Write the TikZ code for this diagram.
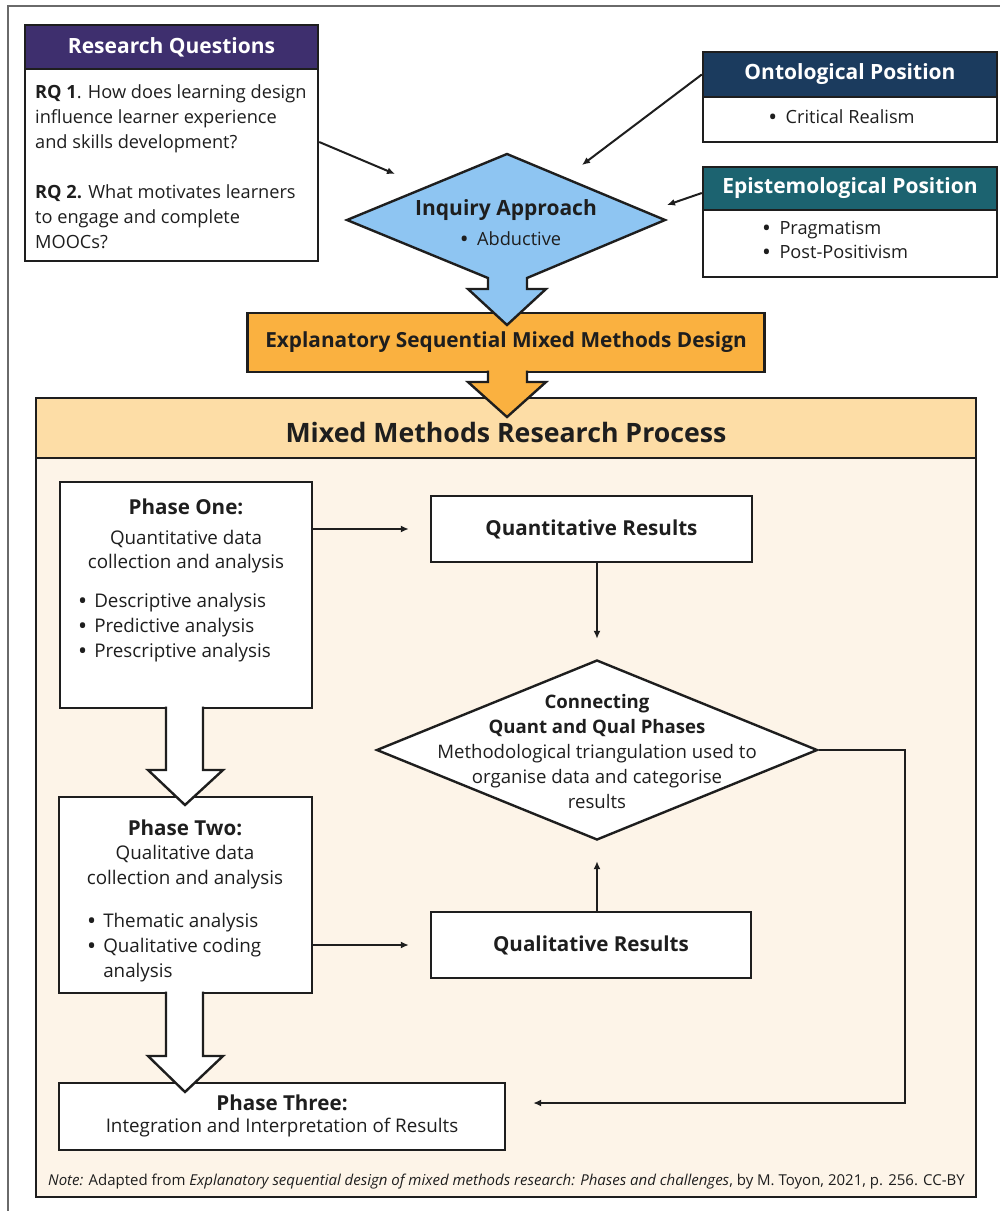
\documentclass[tikz,border=0pt]{standalone}
\usepackage{fontspec}
\setmainfont{Open Sans}
\usetikzlibrary{shapes.geometric,arrows.meta,calc}
\definecolor{lc}{HTML}{1E1E1E}
\definecolor{rqpurple}{HTML}{3E2F6E}
\definecolor{navy}{HTML}{1B3B5E}
\definecolor{teal2}{HTML}{1C6370}
\definecolor{skyblue}{HTML}{8EC5F2}
\definecolor{orng}{HTML}{FAB140}
\definecolor{hdrorng}{HTML}{FDDDA6}
\definecolor{cream}{HTML}{FDF4E8}
\definecolor{framegray}{HTML}{6A6A6A}
\newcommand{\mybul}{{\bfseries\textbullet}}
\begin{document}
\begin{tikzpicture}[x=1pt,y=-1pt,
  box/.style={draw=lc, line width=2.4pt, fill=white, inner sep=0pt},
  hdr/.style={box, text=white, font=\fontsize{21}{24}\selectfont\bfseries},
  arr/.style={draw=lc, line width=2pt, -{Latex[length=8pt,width=7pt]}},
  bigarrow/.style={draw=lc, line width=2.4pt, line join=miter},
  txt/.style={inner sep=0pt, text=lc, font=\fontsize{18.2}{25}\selectfont},
  ptitle/.style={inner sep=0pt, text=lc, font=\fontsize{20.6}{24}\selectfont\bfseries},
  pbody/.style={inner sep=0pt, text=lc, font=\fontsize{18.8}{25}\selectfont},
  res/.style={box, text=lc, font=\fontsize{20.6}{24}\selectfont\bfseries}
]
\useasboundingbox (0,0) rectangle (1000,1211);
\fill[white] (0,0) rectangle (1000,1211);
\draw[framegray, line width=1.3pt] (8,6) rectangle (1010,1220);

% Research questions
\node[box, minimum width=293pt, minimum height=192pt] (rqb) at (171.5,165) {};
\node[hdr, fill=rqpurple, minimum width=293pt, minimum height=44pt] (rqh) at (171.5,47) {Research Questions};
\node[txt, anchor=west, align=left] (rqt) at (35,167) {\textbf{RQ 1}. How does learning design\\ influence learner experience\\ and skills development?\\[25pt] \textbf{RQ 2.} What motivates learners\\ to engage and complete\\ MOOCs?};

% Ontological
\node[box, minimum width=294pt, minimum height=45pt] (ontb) at (850,119.5) {};
\node[hdr, fill=navy, minimum width=294pt, minimum height=45pt] (onth) at (850,74.5) {Ontological Position};
\node[txt] (ontt) at (842,117) {\mybul\ \ Critical Realism};

% Epistemological
\node[box, minimum width=294pt, minimum height=67pt] (epib) at (850,243.5) {};
\node[hdr, fill=teal2, minimum width=294pt, minimum height=43pt] (epih) at (850,188.5) {Epistemological Position};
\node[txt, anchor=west, align=left, font=\fontsize{18.2}{24}\selectfont] (epit) at (763,240) {\mybul\ \ Pragmatism\\ \mybul\ \ Post-Positivism};

% Orange design box
\node[box, fill=orng, minimum width=517pt, minimum height=59pt, text=lc, font=\fontsize{20.8}{24}\selectfont\bfseries] (esm) at (506,342.5) {Explanatory Sequential Mixed Methods Design};

% Inquiry diamond with arrow
\draw[bigarrow, fill=skyblue] (347,220) -- (507,154) -- (665,220) -- (527,278) -- (527,289) -- (546,289) -- (507,325) -- (468,289) -- (488,289) -- (488,278) -- cycle;
\node[inner sep=0pt, text=lc, font=\fontsize{21}{24}\selectfont\bfseries] (inq) at (506,210) {Inquiry Approach};
\node[txt] (inqb) at (511,239) {\mybul\ \ Abductive};
\coordinate (inqW) at (395,174);
\coordinate (inqN) at (582,165);
\coordinate (inqE) at (667,205);

\draw[arr] ([yshift=23pt]rqb.east) -- (inqW);
\draw[arr] (onth.west) -- (inqN);
\draw[arr] ([yshift=-4.5pt]epih.west) -- (inqE);

% Mixed methods container
\node[box, fill=cream, minimum width=940pt, minimum height=739pt] (mmb) at (506,827.5) {};
\node[box, fill=hdrorng, minimum width=940pt, minimum height=60pt] (mmh) at (506,428) {};
\node[inner sep=0pt, text=lc, font=\fontsize{26.7}{30}\selectfont\bfseries] (mmt) at (506,432) {Mixed Methods Research Process};

% orange arrow
\draw[bigarrow, fill=orng] (488,370.6) -- (488,382) -- (468,382) -- (507,417) -- (546,382) -- (527,382) -- (527,370.6);

% Phase boxes
\node[box, minimum width=252pt, minimum height=226pt] (p1) at (186,595) {};
\node[ptitle] (p1t) at (186,507) {Phase One:};
\node[pbody, align=center, font=\fontsize{18.8}{24}\selectfont] (p1d) at (186,552) {Quantitative data\\ collection and analysis};
\node[pbody, anchor=west] (p1b) at (79,627) {\begin{tabular}{@{}l@{\hspace{8pt}}l@{}}\mybul & Descriptive analysis\\ \mybul & Predictive analysis\\ \mybul & Prescriptive analysis\end{tabular}};

\node[box, minimum width=253pt, minimum height=196pt] (p2) at (185.5,895) {};
\node[ptitle] (p2t) at (185,828) {Phase Two:};
\node[pbody, align=center] (p2d) at (185,867.5) {Qualitative data\\ collection and analysis};
\node[pbody, anchor=west] (p2b) at (88,947) {\begin{tabular}{@{}l@{\hspace{8pt}}l@{}}\mybul & Thematic analysis\\ \mybul & Qualitative coding\\ & analysis\end{tabular}};

\node[box, minimum width=446pt, minimum height=67pt] (p3) at (282,1116.5) {};
\node[ptitle] (p3t) at (282,1103) {Phase Three:};
\node[pbody] (p3d) at (282,1128) {Integration and Interpretation of Results};

% big white arrows
\draw[bigarrow, fill=white] (166,706.6) -- (166,770) -- (148,770) -- (185,805) -- (223,770) -- (203,770) -- (203,706.6);
\draw[bigarrow, fill=white] (166,991.6) -- (166,1056) -- (148,1056) -- (185,1092) -- (223,1056) -- (203,1056) -- (203,991.6);

% results boxes
\node[res, minimum width=321pt, minimum height=66pt] (qr) at (591.5,529) {Quantitative Results};
\node[res, minimum width=320pt, minimum height=66pt] (ql) at (591,945) {Qualitative Results};

% connecting diamond
\node[draw=lc, line width=2.4pt, fill=white, diamond, minimum width=441pt, minimum height=180pt, inner sep=0pt] (cd) at (597,750) {};
\node[txt, align=center, font=\fontsize{18.6}{25}\selectfont] (cdt) at (597,752) {\textbf{Connecting}\\ \textbf{Quant and Qual Phases}\\ Methodological triangulation used to\\ organise data and categorise\\ results};

% connectors
\draw[arr, shorten >=21pt] (p1.east |- qr.west) -- (qr.west);
\draw[arr, shorten >=20pt] (cd.north |- qr.south) -- (cd.north);
\draw[arr, shorten >=20pt] (cd.south |- ql.north) -- (cd.south);
\draw[arr, shorten >=21pt] (p2.east |- ql.west) -- (ql.west);
\draw[arr, shorten >=27pt] (cd.east) -- ++(86,0) |- ([yshift=13.5pt]p3.east);

% note
\node[inner sep=0pt, anchor=west, text=lc, font=\fontsize{15}{18}\selectfont] (note) at (48,1182) {\textit{Note:} Adapted from \textit{Explanatory sequential design of mixed methods research: Phases and challenges}, by M. Toyon, 2021, p. 256. CC-BY};
\end{tikzpicture}
\end{document}
